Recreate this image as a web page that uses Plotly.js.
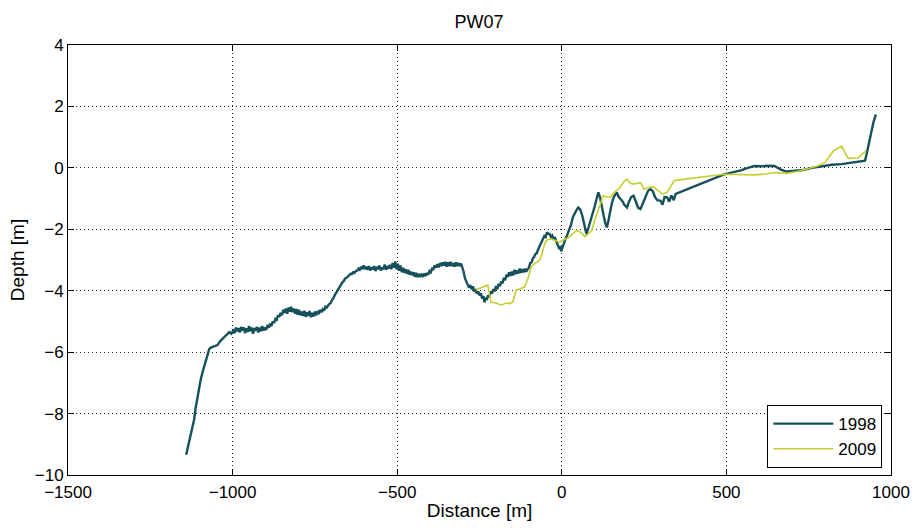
<!DOCTYPE html>
<html>
<head>
<meta charset="utf-8">
<script src="https://cdn.plot.ly/plotly-3.0.1.min.js"></script>
<style>html,body{margin:0;padding:0;background:#fff;}#chart{width:915px;height:528px;}</style>
</head>
<body>
<div id="chart"></div>
<script>
// [distance m, depth m]
const pts1998 = [[-1141,-9.34],[-1136,-9.1],[-1132,-8.9],[-1128,-8.75],[-1124,-8.45],[-1120,-8.35],[-1117,-8.2],[-1112,-7.8],[-1107,-7.45],[-1102,-7.2],[-1097,-6.9],[-1092,-6.68],[-1086,-6.45],[-1080,-6.2],[-1076,-6.1],[-1071,-5.9],[-1066,-5.85],[-1056,-5.82],[-1046,-5.77],[-1038,-5.65],[-1030,-5.55],[-1020,-5.45],[-1010,-5.35],
[-1004,-5.4],[-998,-5.3],[-994,-5.38],[-990,-5.2],[-986,-5.32],[-982,-5.22],[-978,-5.36],[-974,-5.18],[-970,-5.3],[-966,-5.2],[-962,-5.38],[-958,-5.22],[-954,-5.34],[-950,-5.15],[-946,-5.32],[-942,-5.2],[-938,-5.4],[-934,-5.22],[-930,-5.3],[-926,-5.18],[-922,-5.36],[-918,-5.2],[-914,-5.32],[-910,-5.15],[-906,-5.3],[-902,-5.2],[-898,-5.28],[-894,-5.12],[-890,-5.2],[-886,-5.1],[-882,-5.15],
[-878,-5.0],[-874,-5.05],[-870,-4.92],[-866,-4.95],[-862,-4.8],[-858,-4.85],[-854,-4.72],[-850,-4.8],[-846,-4.62],[-842,-4.72],[-838,-4.58],[-834,-4.75],[-830,-4.55],[-826,-4.68],[-822,-4.52],[-818,-4.7],[-814,-4.58],[-810,-4.75],[-806,-4.6],[-802,-4.78],[-798,-4.62],[-794,-4.8],[-790,-4.68],[-786,-4.82],[-782,-4.65],[-778,-4.85],[-774,-4.7],[-770,-4.82],[-766,-4.66],[-762,-4.86],[-758,-4.72],[-754,-4.84],[-750,-4.68],[-746,-4.8],[-742,-4.66],[-738,-4.76],[-734,-4.62],[-730,-4.7],[-726,-4.6],[-722,-4.65],[-718,-4.52],
[-714,-4.55],[-708,-4.45],[-702,-4.4],[-698,-4.3],[-694,-4.25],[-690,-4.15],[-686,-4.08],[-682,-3.98],[-678,-3.95],[-674,-3.85],[-670,-3.8],[-666,-3.72],[-662,-3.68],[-658,-3.6],[-654,-3.58],[-650,-3.52],[-646,-3.5],[-642,-3.45],[-638,-3.46],[-634,-3.4],[-630,-3.42],[-626,-3.36],[-622,-3.35],[-618,-3.28],
[-614,-3.32],[-610,-3.22],[-606,-3.3],[-602,-3.18],[-598,-3.3],[-594,-3.22],[-590,-3.32],[-586,-3.2],[-582,-3.34],[-578,-3.24],[-574,-3.3],[-570,-3.2],[-566,-3.36],[-562,-3.22],[-558,-3.3],[-554,-3.18],[-550,-3.34],[-546,-3.24],[-542,-3.3],[-538,-3.15],[-534,-3.32],[-530,-3.2],[-526,-3.28],[-522,-3.16],[-518,-3.3],[-514,-3.1],[-510,-3.25],[-506,-3.05],[-502,-3.3],[-498,-3.12],[-494,-3.35],[-490,-3.18],[-486,-3.4],[-482,-3.25],[-478,-3.42],[-474,-3.3],[-470,-3.45],[-466,-3.32],[-462,-3.48],[-458,-3.38],[-454,-3.5],[-450,-3.4],[-446,-3.55],[-442,-3.42],[-438,-3.56],[-434,-3.45],[-430,-3.55],[-426,-3.48],[-422,-3.55],[-418,-3.44],[-414,-3.52],[-410,-3.42],[-406,-3.48],[-402,-3.36],[-398,-3.4],[-394,-3.28],[-390,-3.3],[-386,-3.18],[-382,-3.25],[-378,-3.14],[-374,-3.24],[-370,-3.1],[-366,-3.2],[-362,-3.08],[-358,-3.18],[-354,-3.06],[-350,-3.22],[-346,-3.08],[-342,-3.2],[-338,-3.06],[-334,-3.2],[-330,-3.1],[-326,-3.22],[-322,-3.08],[-318,-3.2],[-314,-3.1],[-310,-3.2],[-306,-3.12],[-302,-3.25],[-299,-3.35],
[-294,-3.6],[-290,-3.72],[-286,-3.78],[-282,-3.9],[-278,-3.82],[-274,-3.95],[-270,-3.86],[-266,-4.02],[-262,-3.95],[-258,-4.1],[-254,-4.02],[-250,-4.15],[-246,-4.08],[-242,-4.25],[-238,-4.18],[-235,-4.38],[-232,-4.22],[-228,-4.3],[-224,-4.15],[-220,-4.2],[-216,-4.02],[-212,-4.1],[-208,-3.95],[-204,-4.02],[-200,-3.85],[-196,-3.95],[-192,-3.78],[-188,-3.85],[-184,-3.7],[-180,-3.76],[-176,-3.58],[-172,-3.66],[-168,-3.48],[-164,-3.55],[-160,-3.4],[-156,-3.52],[-152,-3.38],[-148,-3.5],[-144,-3.32],[-140,-3.46],[-136,-3.34],[-132,-3.44],[-128,-3.28],[-124,-3.42],[-120,-3.3],[-116,-3.4],[-112,-3.28],[-108,-3.38],[-104,-3.3],[-100,-3.25],[-96,-3.1],[-92,-3.08],[-88,-2.95],[-84,-2.9],[-80,-2.8],[-76,-2.78],[-72,-2.66],[-68,-2.55],[-64,-2.48],[-60,-2.35],[-57,-2.31],[-53,-2.22],[-49,-2.25],[-45,-2.1],[-41,-2.15],[-37,-2.15],[-33,-2.25],[-29,-2.2],[-25,-2.3],[-21,-2.28],[-17,-2.4],[-13,-2.45],[-9,-2.6],[-5,-2.55],[-2,-2.72],
[2,-2.6],[6,-2.45],[10,-2.35],[16,-2.2],[22,-2.05],[28,-1.85],[34,-1.6],[40,-1.45],[46,-1.35],[50,-1.29],[56,-1.35],[62,-1.55],[68,-1.8],[75,-2.15],[81,-1.95],[87,-1.75],[93,-1.55],[100,-1.25],[106,-1.0],[111,-0.8],[116,-0.95],[121,-1.18],[127,-1.55],[132,-1.8],[137,-1.94],[142,-1.7],[147,-1.39],[152,-1.15],[158,-0.95],[163,-0.85],[167,-0.8],[173,-0.95],[178,-1.0],[183,-1.07],[190,-1.2],[198,-1.29],[204,-1.1],[211,-0.95],[218,-0.91],[225,-1.1],[232,-1.3],[239,-1.34],[246,-1.15],[254,-0.95],[262,-0.75],[269,-0.69],[276,-0.75],[283,-0.95],[290,-1.05],[300,-1.07],[306,-1.2],[312,-0.95],[320,-0.96],[326,-1.1],[333,-0.9],[340,-1.05],[346,-0.85],
[493,-0.21],[520,-0.15],[544,-0.08],[565,0.0],[585,0.06],[605,0.05],[625,0.07],[646,0.06],[664,-0.05],[682,-0.12],[705,-0.1],[728,-0.08],[760,0.0],[789,0.06],[820,0.1],[850,0.12],[885,0.17],[915,0.2],[921,0.23],[926,0.45],[932,0.77],[936,1.0],[940,1.25],[947,1.5],[954,1.74]];
const pts2009 = [[-261,-3.97],[-245,-3.9],[-225,-3.82],[-215,-4.37],[-200,-4.4],[-184,-4.47],[-170,-4.4],[-160,-4.42],[-149,-4.37],[-139,-3.99],[-125,-3.92],[-113,-3.88],[-103,-3.6],[-93,-3.23],[-80,-3.1],[-67,-3.01],[-60,-2.8],[-52,-2.47],[-45,-2.35],[-37,-2.31],[-25,-2.35],[-15,-2.4],[-6,-2.42],[4,-2.35],[14,-2.31],[28,-2.2],[45,-2.04],[58,-2.1],[70,-2.24],[80,-2.15],[91,-2.04],[100,-1.7],[111,-1.34],[118,-1.1],[126,-0.91],[137,-0.95],[147,-0.96],[160,-0.8],[177,-0.64],[188,-0.45],[198,-0.37],[208,-0.5],[218,-0.53],[229,-0.5],[239,-0.48],[249,-0.69],[264,-0.64],[279,-0.62],[292,-0.75],[305,-0.85],[320,-0.8],[330,-0.6],[341,-0.42],[351,-0.4],[493,-0.21],[585,-0.23],[620,-0.2],[646,-0.15],[682,-0.18],[715,-0.12],[748,-0.04],[775,0.05],[799,0.17],[812,0.35],[825,0.55],[850,0.71],[860,0.5],[870,0.31],[901,0.33],[924,0.55]];
const seriesNames = ['1998','2009'];
const xTicks = [-1500,-1000,-500,0,500,1000];
const yTicks = [-10,-8,-6,-4,-2,0,2,4];

const fam = 'Liberation Sans, Arial, sans-serif';
const tickFont = {family: fam, size: 17, color: '#000'};
const traces = [
  {x: pts1998.map(p => p[0]), y: pts1998.map(p => p[1]), name: seriesNames[0], mode: 'lines', line: {color: '#16505a', width: 2.4}},
  {x: pts2009.map(p => p[0]), y: pts2009.map(p => p[1]), name: seriesNames[1], mode: 'lines', line: {color: '#c3cf2e', width: 1.6}}
];
const axisCommon = {
  showline: true, mirror: 'ticks', linecolor: '#000', linewidth: 1,
  ticks: 'inside', ticklen: 6, tickcolor: '#000',
  showgrid: true, gridcolor: '#222', griddash: '1px,3px', gridwidth: 1,
  zeroline: false, tickfont: tickFont
};
const layout = {
  width: 915, height: 528,
  margin: {l: 68, r: 24, t: 45, b: 53},
  paper_bgcolor: '#fff', plot_bgcolor: '#fff',
  font: tickFont,
  title: {text: 'PW07', font: {family: fam, size: 18, color: '#000'}, x: 0.5235, xanchor: 'center', y: 0.959, yanchor: 'middle'},
  xaxis: Object.assign({}, axisCommon, {range: [-1500, 1000], tickvals: xTicks, ticklabelstandoff: 2, title: {text: 'Distance [m]', font: {family: fam, size: 19}, standoff: 2}}),
  yaxis: Object.assign({}, axisCommon, {range: [-10, 4], tickvals: yTicks, title: {text: 'Depth [m]', font: {family: fam, size: 19}, standoff: 5}}),
  showlegend: true,
  legend: {x: 0.9895, xanchor: 'right', y: 0.016, yanchor: 'bottom', bgcolor: '#fff', bordercolor: '#000', borderwidth: 1, itemwidth: 60, font: {family: fam, size: 17, color: '#000'}, tracegroupgap: 0}
};
Plotly.newPlot('chart', traces, layout, {displayModeBar: false, staticPlot: true});
</script>
</body>
</html>
